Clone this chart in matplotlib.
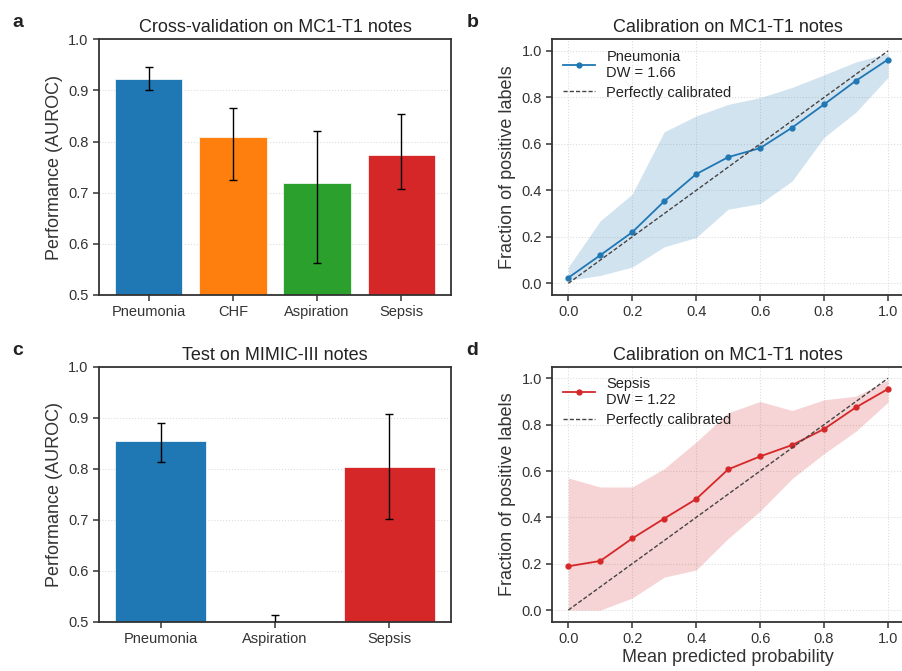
import numpy as np
import matplotlib
matplotlib.use("Agg")
import matplotlib.pyplot as plt

# ---- data ----
cv_labels = ["Pneumonia", "CHF", "Aspiration", "Sepsis"]
cv_auroc = [0.922, 0.808, 0.719, 0.773]
cv_low = [0.901, 0.725, 0.562, 0.708]
cv_high = [0.945, 0.866, 0.820, 0.853]
cv_colors = ["#1f77b4", "#ff7f0e", "#2ca02c", "#d62728"]

test_labels = ["Pneumonia", "Aspiration", "Sepsis"]
test_auroc = [0.854, 0.490, 0.804]
test_low = [0.814, 0.466, 0.701]
test_high = [0.890, 0.514, 0.907]
test_colors = ["#1f77b4", "#2ca02c", "#d62728"]

prob_bins = [0.0, 0.1, 0.2, 0.3, 0.4, 0.5, 0.6, 0.7, 0.8, 0.9, 1.0]

pneu_frac = [0.024, 0.121, 0.220, 0.353, 0.470, 0.543, 0.582, 0.670, 0.770, 0.872, 0.963]
pneu_upper = [0.07, 0.269, 0.384, 0.652, 0.72, 0.77, 0.799, 0.843, 0.897, 0.953, 0.99]
pneu_lower = [0.013, 0.034, 0.07, 0.157, 0.197, 0.319, 0.343, 0.44, 0.628, 0.737, 0.886]
pneu_dw = 1.66

sepsis_frac = [0.189, 0.212, 0.309, 0.395, 0.479, 0.607, 0.663, 0.712, 0.781, 0.875, 0.954]
sepsis_upper = [0.570, 0.531, 0.531, 0.610, 0.725, 0.851, 0.900, 0.861, 0.907, 0.923, 0.993]
sepsis_lower = [0.0, 0.0, 0.052, 0.142, 0.173, 0.309, 0.427, 0.567, 0.675, 0.772, 0.897]
sepsis_dw = 1.22

plt.rcParams['font.family'] = ['Liberation Sans', 'DejaVu Sans']
plt.rcParams['axes.edgecolor'] = '#333333'
plt.rcParams['axes.linewidth'] = 1.3
plt.rcParams['xtick.color'] = '#333333'
plt.rcParams['ytick.color'] = '#333333'
plt.rcParams['xtick.labelcolor'] = '#333333'
plt.rcParams['ytick.labelcolor'] = '#333333'
plt.rcParams['text.color'] = '#222222'
plt.rcParams['axes.labelcolor'] = '#333333'

fig = plt.figure(figsize=(9.02, 6.71), dpi=100)
# right-hand panels run slightly past the figure edge, as in the original crop
ax_a = fig.add_axes([0.1098, 0.5604, 0.3902, 0.3810])
ax_b = fig.add_axes([0.6123, 0.5604, 0.3899, 0.3810])
ax_c = fig.add_axes([0.1098, 0.0735, 0.3902, 0.3800])
ax_d = fig.add_axes([0.6123, 0.0735, 0.3899, 0.3800])

grid_kw = dict(color='#dddddd', linestyle=':', linewidth=0.8)


def bar_panel(ax, labels, vals, lo, hi, colors, title):
    x = np.arange(len(labels))
    err = [np.array(vals) - np.array(lo), np.array(hi) - np.array(vals)]
    ax.bar(x, vals, width=0.8, color=colors, edgecolor='white', linewidth=0.5, zorder=2)
    ax.errorbar(x, vals, yerr=err, fmt='none', ecolor='black', elinewidth=1,
                capsize=3, capthick=1, zorder=3)
    ax.set_xticks(x)
    ax.set_xticklabels(labels, fontsize=10.5)
    ax.set_ylim(0.5, 1.0)
    ax.set_yticks([0.5, 0.6, 0.7, 0.8, 0.9, 1.0])
    ax.tick_params(axis='y', labelsize=10.5, length=4, width=1.1)
    ax.tick_params(axis='x', length=4, width=1.1)
    ax.yaxis.grid(True, **grid_kw)
    ax.set_axisbelow(True)
    ax.set_ylabel("Performance (AUROC)", fontsize=13)
    ax.set_title(title, fontsize=13, pad=5)


def calib_panel(ax, frac, lower, upper, color, name, dw, xlabel=None):
    ax.fill_between(prob_bins, lower, upper, color=color, alpha=0.2, linewidth=0)
    ax.plot(prob_bins, frac, '-o', color=color, markersize=3.5, linewidth=1.3,
            label=f"{name}\nDW = {dw:.2f}")
    ax.plot([0, 1], [0, 1], linestyle=(0, (3, 1.5)), color='#444444', linewidth=1,
            label="Perfectly calibrated")
    ax.set_xlim(-0.05, 1.05)
    ax.set_ylim(-0.05, 1.05)
    ax.set_xticks([0.0, 0.2, 0.4, 0.6, 0.8, 1.0])
    ax.set_yticks([0.0, 0.2, 0.4, 0.6, 0.8, 1.0])
    ax.tick_params(labelsize=10.5, length=4, width=1.1)
    ax.grid(True, **grid_kw)
    ax.set_axisbelow(True)
    ax.set_ylabel("Fraction of positive labels", fontsize=13)
    if xlabel:
        ax.set_xlabel(xlabel, fontsize=13, labelpad=2)
    ax.set_title("Calibration on MC1-T1 notes", fontsize=13, pad=5)
    ax.legend(loc='upper left', frameon=False, fontsize=10.5, handlelength=2.2,
              borderaxespad=0.3, labelspacing=0.4)


bar_panel(ax_a, cv_labels, cv_auroc, cv_low, cv_high, cv_colors,
          "Cross-validation on MC1-T1 notes")
bar_panel(ax_c, test_labels, test_auroc, test_low, test_high, test_colors,
          "Test on MIMIC-III notes")
calib_panel(ax_b, pneu_frac, pneu_lower, pneu_upper, "#1f77b4", "Pneumonia", pneu_dw)
calib_panel(ax_d, sepsis_frac, sepsis_lower, sepsis_upper, "#d62728", "Sepsis", sepsis_dw,
            xlabel="Mean predicted probability")

for lbl, (x, y) in zip("abcd", [(0.014, 0.966), (0.517, 0.966), (0.014, 0.478), (0.517, 0.478)]):
    fig.text(x, y, lbl, fontsize=14, fontweight='bold', va='center', ha='left')

fig.savefig("out.png", dpi=100)
